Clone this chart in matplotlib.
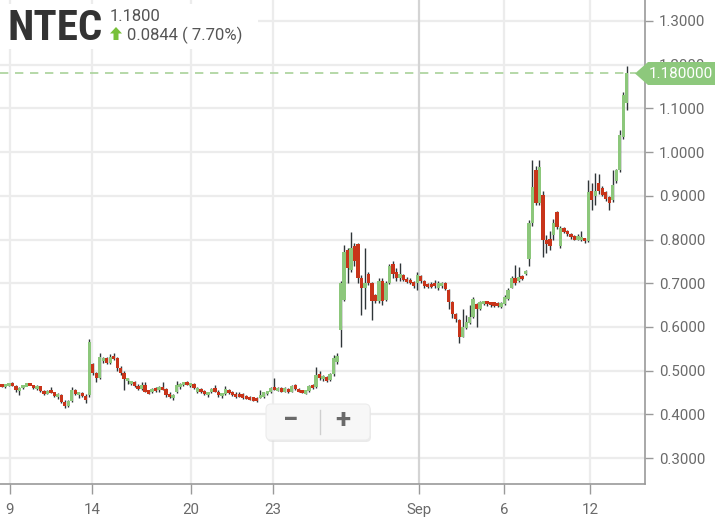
import matplotlib
matplotlib.use('Agg')
import matplotlib.pyplot as plt
from matplotlib.patches import FancyBboxPatch, Rectangle, Polygon
from matplotlib.lines import Line2D
from matplotlib.transforms import IdentityTransform, Bbox
from matplotlib import font_manager as fm

# ---------------- data ----------------
opens = [.468, .463, .467, .471, .465, .455, .460, .466, .468, .467,
         .460, .464, .454, .447, .454, .450, .442, .445, .428, .418,
         .430, .455, .446, .448, .442, .445, .514, .494, .482, .522,
         .528, .518, .532, .528, .505, .494, .478, .472, .474, .464,
         .458, .466, .452, .450, .458, .455, .462, .458, .444, .438,
         .450, .462, .468, .472, .466, .470, .452, .458, .452, .446,
         .452, .460, .452, .444, .446, .456, .450, .446, .444, .446,
         .440, .438, .438, .436, .440, .440, .446, .450, .460, .455,
         .460, .452, .458, .452, .466, .458, .454, .448, .454, .466,
         .462, .492, .480, .486, .478, .492, .520, .593, .662, .776,
         .730, .785, .790, .712, .690, .720, .700, .672, .660, .705,
         .662, .700, .745, .725, .712, .718, .710, .708, .702, .700,
         .716, .705, .698, .696, .700, .690, .696, .700, .684, .656,
         .630, .616, .578, .598, .608, .622, .652, .640, .652, .658,
         .656, .656, .654, .646, .652, .664, .690, .712, .704, .716,
         .720, .755, .838, .960, .884, .902, .800, .800, .810, .862,
         .786, .826, .820, .812, .808, .800, .800, .802, .796, .912,
         .900, .930, .918, .908, .898, .890, .935, .960, 1.035, 1.112]
highs = [.470, .468, .472, .473, .466, .462, .468, .470, .470, .468,
         .466, .465, .456, .455, .462, .452, .448, .447, .432, .432,
         .462, .458, .452, .450, .446, .572, .518, .497, .540, .532,
         .530, .538, .541, .530, .510, .498, .484, .476, .476, .470,
         .474, .475, .456, .460, .462, .464, .474, .460, .452, .446,
         .476, .472, .474, .476, .472, .472, .462, .460, .456, .452,
         .460, .466, .455, .448, .464, .458, .454, .452, .452, .448,
         .444, .442, .440, .440, .456, .452, .454, .462, .483, .462,
         .462, .462, .460, .466, .470, .460, .456, .456, .466, .470,
         .508, .500, .490, .488, .494, .536, .540, .705, .787, .780,
         .817, .792, .792, .718, .780, .725, .702, .676, .712, .712,
         .705, .745, .750, .735, .746, .722, .714, .712, .704, .725,
         .718, .708, .700, .702, .708, .704, .702, .702, .686, .660,
         .632, .618, .640, .628, .650, .668, .655, .660, .660, .660,
         .658, .658, .656, .658, .672, .690, .716, .742, .738, .718,
         .730, .845, .982, .968, .982, .910, .810, .820, .848, .866,
         .830, .828, .822, .814, .810, .812, .820, .804, .936, .930,
         .952, .950, .922, .910, .900, .960, .962, 1.050, 1.137, 1.197]
lows = [.462, .461, .465, .464, .450, .444, .458, .464, .466, .458,
        .456, .452, .444, .446, .448, .440, .436, .425, .414, .416,
        .428, .444, .438, .440, .425, .440, .490, .474, .480, .518,
        .515, .516, .525, .500, .490, .456, .470, .468, .462, .456,
        .455, .450, .446, .448, .452, .452, .456, .440, .438, .433,
        .448, .458, .464, .466, .462, .458, .448, .448, .444, .440,
        .448, .450, .440, .438, .444, .446, .442, .438, .440, .436,
        .434, .432, .430, .428, .438, .438, .444, .448, .455, .453,
        .450, .450, .449, .450, .456, .450, .448, .446, .452, .458,
        .460, .478, .476, .474, .476, .488, .515, .554, .660, .700,
        .726, .740, .700, .627, .640, .695, .616, .655, .655, .650,
        .660, .698, .712, .705, .705, .705, .700, .698, .690, .685,
        .700, .690, .690, .688, .688, .684, .690, .684, .640, .620,
        .612, .563, .576, .596, .606, .620, .600, .638, .650, .648,
        .646, .646, .646, .644, .650, .662, .688, .696, .702, .708,
        .718, .740, .830, .878, .880, .760, .770, .775, .800, .825,
        .780, .815, .808, .802, .798, .798, .796, .792, .794, .868,
        .880, .905, .900, .888, .867, .886, .930, .955, 1.030, 1.096]
closes = [.463, .467, .470, .465, .455, .460, .466, .468, .467, .460,
          .464, .454, .447, .454, .450, .442, .445, .428, .418, .430,
          .455, .446, .448, .442, .432, .566, .494, .482, .530, .528,
          .518, .532, .528, .505, .494, .480, .482, .474, .464, .458,
          .466, .452, .450, .458, .455, .462, .458, .444, .442, .444,
          .468, .470, .472, .468, .470, .460, .460, .450, .446, .450,
          .456, .452, .444, .446, .458, .448, .444, .440, .442, .438,
          .436, .434, .432, .432, .440, .450, .452, .460, .456, .460,
          .452, .460, .452, .464, .458, .452, .450, .454, .464, .460,
          .490, .482, .488, .476, .492, .528, .534, .700, .771, .735,
          .780, .750, .712, .690, .700, .700, .660, .660, .705, .660,
          .700, .740, .720, .712, .720, .708, .704, .700, .694, .718,
          .705, .694, .692, .694, .696, .700, .700, .686, .656, .630,
          .618, .577, .600, .612, .622, .664, .640, .656, .658, .652,
          .650, .648, .648, .654, .668, .684, .712, .700, .714, .710,
          .728, .838, .920, .884, .966, .800, .790, .786, .838, .829,
          .826, .818, .812, .806, .800, .808, .806, .796, .909, .890,
          .910, .912, .902, .892, .884, .925, .958, 1.040, 1.130, 1.180]

x_tick_labels = ['9', '14', '20', '23', 'Sep', '6', '12']
y_ticks = [0.3, 0.4, 0.5, 0.6, 0.7, 0.8, 0.9, 1.0, 1.1, 1.2, 1.3]
last_price = 1.18
symbol = 'NTEC'
header_price = '1.1800'
header_change = '0.0844 ( 7.70%)'

# ---------------- layout / style ----------------
W, H = 715, 517
STEP = 3.49          # pixels per candle
X0 = 2.0             # pixel of first candle
x_tick_px = [10, 92, 191, 273, 419, 504, 590]
x_tick_pos = [(p - X0) / STEP for p in x_tick_px]

UP = '#8cc77b'
DOWN = '#c8341a'
WICK = '#2f3538'
GRID = '#ececec'
AXC = '#9a9a9a'
TXT = '#6a6a6a'

plt.rcParams['font.family'] = ['Roboto', 'DejaVu Sans']


def find_narrow_bold():
    """Look for an installed condensed / narrow bold face for the symbol."""
    cands = []
    for f in fm.fontManager.ttflist:
        name = (f.name + ' ' + f.fname).lower()
        if ('narrow' in name or 'condensed' in name) and \
                (str(f.weight) in ('bold', '700') or 'bold' in f.fname.lower()):
            cands.append(f)
    if cands:
        cands.sort(key=lambda f: (0 if 'roboto' in f.fname.lower() else
                                  1 if 'liberation' in f.fname.lower() else 2))
        return cands[0].fname
    return None


narrow_path = find_narrow_bold()
if narrow_path:
    title_fp = fm.FontProperties(fname=narrow_path, size=31)
else:
    title_fp = fm.FontProperties(family='Roboto', weight='bold', size=25.5)

fig = plt.figure(figsize=(W / 100, H / 100), dpi=100)
fig.patch.set_facecolor('white')
ax = fig.add_axes([0, 33 / H, 645 / W, 484 / H])
ax.set_facecolor('white')

ymin = 0.3 - 26 / 437.0
ymax = 1.3 + 21 / 437.0
ax.set_ylim(ymin, ymax)
ax.set_xlim(-X0 / STEP, (645 - X0) / STEP)

# grid
for yv in y_ticks:
    ax.axhline(yv, color=GRID, lw=1.6, zorder=0)
for xp, lab in zip(x_tick_pos, x_tick_labels):
    ax.axvline(xp, color='#d4d4d4' if lab == 'Sep' else GRID, lw=1.6, zorder=0)

# candles
xs = list(range(len(closes)))
ax.vlines(xs, lows, highs, color=WICK, lw=1.0, zorder=2)
bottoms = [min(o, c) for o, c in zip(opens, closes)]
heights = [max(abs(c - o), 0.007) for o, c in zip(opens, closes)]
bottoms = [b - (h - abs(c - o)) / 2 for b, h, o, c in zip(bottoms, heights, opens, closes)]
colors = [UP if c >= o else DOWN for o, c in zip(opens, closes)]
ax.bar(xs, heights, bottom=bottoms, width=0.95, color=colors, linewidth=0,
       zorder=3)

# last price dashed line
ax.axhline(last_price, xmin=0, xmax=636 / 645, color='#a9d29a', lw=1.2,
           ls=(0, (5, 4)), zorder=4)

# axes styling
for s in ['top', 'left']:
    ax.spines[s].set_visible(False)
ax.spines['right'].set_color(AXC)
ax.spines['bottom'].set_color(AXC)
ax.spines['right'].set_linewidth(1.2)
ax.spines['bottom'].set_linewidth(1.2)
ax.yaxis.tick_right()
ax.set_yticks(y_ticks)
ax.set_yticklabels(['%.4f' % v for v in y_ticks])
ax.set_xticks(x_tick_pos)
ax.set_xticklabels(x_tick_labels)
ax.tick_params(axis='y', length=6, width=1, color=AXC, labelcolor=TXT,
               labelsize=10.8, pad=4)
ax.tick_params(axis='x', length=7, width=1, color=AXC, labelcolor=TXT,
               labelsize=10.8, pad=7)

ID = IdentityTransform()


def D(x, y):
    return (x, H - y)


# the 1.2000 label sits behind the last-price flag: show only its top sliver
for t in ax.get_yticklabels():
    if t.get_text() == '1.2000':
        t.set_clip_box(Bbox.from_extents(640, H - 62, W, H))
        t.set_clip_on(True)

# header box
fig.add_artist(Rectangle(D(0, 49), 258, 45, transform=ID, fc='white',
                         ec='none', zorder=10))
fig.text(7 / W, 1 - 40 / H, symbol, fontproperties=title_fp,
         color='#333333', ha='left', va='baseline', zorder=11)
fig.text(110 / W, 1 - 21 / H, header_price, fontsize=12, color='#555555',
         ha='left', va='baseline', zorder=11)
fig.text(127 / W, 1 - 40 / H, header_change, fontsize=12, color='#555555',
         ha='left', va='baseline', zorder=11)
arrow = [D(116, 27), D(122, 33.5), D(118.5, 33.5), D(118.5, 40), D(113.5, 40),
         D(113.5, 33.5), D(110, 33.5)]
fig.add_artist(Polygon(arrow, closed=True, transform=ID, fc='#78c03a',
                       ec='none', zorder=11))

# last price label
lab = [D(635, 73.5), D(648, 62), D(715, 62), D(715, 85), D(648, 85)]
fig.add_artist(Polygon(lab, closed=True, transform=ID, fc='#8dc87c',
                       ec='none', zorder=10))
fig.text(681 / W, 1 - 74 / H, '%.6f' % last_price, fontsize=11, color='white',
         ha='center', va='center', zorder=11)

# zoom control
fig.add_artist(FancyBboxPatch(D(267, 442), 104, 36,
                              boxstyle='round,pad=0,rounding_size=5',
                              transform=ID, fc='#dcdcdc', ec='none',
                              alpha=0.6, zorder=9))
fig.add_artist(FancyBboxPatch(D(266, 440), 104, 36,
                              boxstyle='round,pad=0,rounding_size=5',
                              transform=ID, fc='#f7f7f7', ec='#ececec',
                              lw=0.8, zorder=10))
fig.add_artist(Line2D([320, 320], [H - 410, H - 434], transform=ID,
                      color='#cfcfcf', lw=1, zorder=11))
fig.text(291 / W, 1 - 421 / H, '\u2212', fontsize=20, fontweight='bold',
         color='#6a6a6a', ha='center', va='center', zorder=11)
fig.text(343 / W, 1 - 421 / H, '+', fontsize=20, fontweight='bold',
         color='#6a6a6a', ha='center', va='center', zorder=11)

fig.savefig('out.png', dpi=100, facecolor='white')
